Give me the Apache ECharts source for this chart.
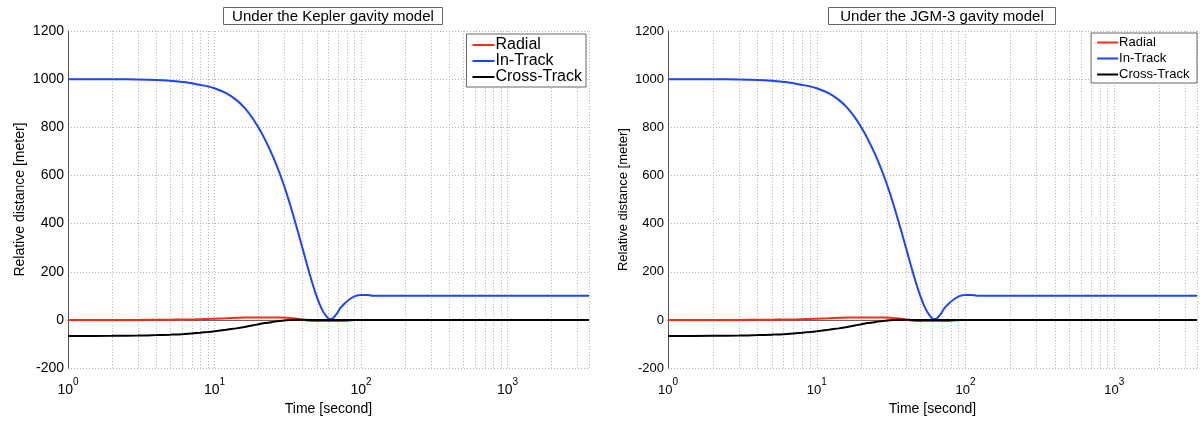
<!DOCTYPE html>
<html>
<head>
<meta charset="utf-8">
<script src="https://cdn.jsdelivr.net/npm/echarts@6/dist/echarts.min.js"></script>
<style>html,body{margin:0;padding:0;background:#fff;}#c{width:1200px;height:421px;}</style>
</head>
<body>
<div id="c"></div>
<script>
// ---- data ----
const time = [1, 2, 3, 4, 5, 6, 7, 8, 9, 10, 12, 14, 16, 18, 20, 22, 25, 28, 31, 34, 37, 40, 43, 46, 50, 54, 58, 61, 64, 68, 72, 78, 85, 92, 100, 110, 115, 120, 150, 200, 500, 1000, 2000, 3600];
const inTrack = [1000, 1000, 999, 997, 993, 988, 983, 976, 970, 962, 942, 915, 882, 842, 798, 752, 680, 605, 527, 447, 369, 295, 225, 163, 95, 45, 15, 4, 6, 24, 48, 70, 89, 100, 104, 104, 103, 100, 100, 100, 100, 100, 100, 100];
const crossTrack = [-67, -66, -65, -63, -61, -59, -56, -53, -50, -47, -41, -35, -29, -23, -18, -13, -8, -4, -1, 0, 1, 1, 0, 0, 0, 0, 0, 0, 0, 0, 0, 0, 0, 0, 0, 0, 0, 0, 0, 0, 0, 0, 0, 0];
const radial = [0, 0, 0, 1, 1, 2, 2, 3, 4, 5, 7, 9, 10, 10, 10, 10, 10, 10, 9, 7, 4, 1, -2, -4, -4, -4, -4, -4, -4, -4, -4, -4, -2, 0, 0, 0, 0, 0, 0, 0, 0, 0, 0, 0];
const minorX = [2, 3, 4, 5, 6, 7, 8, 9, 20, 30, 40, 50, 60, 70, 80, 90, 200, 300, 400, 500, 600, 700, 800, 900, 2000, 3000];
const titles = ['Under the Kepler gavity model', 'Under the JGM-3 gavity model'];
const seriesNames = ['Radial', 'In-Track', 'Cross-Track'];
const colors = ['#ff2a10', '#1a44ff', '#000000'];
const yTicks = {min: -200, max: 1200, step: 200};
const xRange = {min: 1, max: 3600};

// ---- chart ----
const FONT = 'Liberation Sans, Arial, Helvetica, sans-serif';
const chart = echarts.init(document.getElementById('c'), null, {renderer: 'canvas'});
const grids = [
  {left: 68, top: 31, width: 521, height: 342, fs: 14, xfs: 14, lfs: 16, yGap: 41, titleX: 324, tpad: 9, legendRight: 1200 - 586, legendTop: 34, gap: 0, iw: 22},
  {left: 668, top: 31, width: 529, height: 342, fs: 13, xfs: 14, lfs: 13, yGap: 38, titleX: 930, tpad: 12, legendRight: 3, legendTop: 33, gap: 3, iw: 21}
];
const dotted = {color: '#b4b4b4', width: 1, type: [1, 2]};
function pairs(arr) { return time.map((t, i) => [t, arr[i]]); }
const option = {
  animation: false,
  backgroundColor: '#fff',
  textStyle: {fontFamily: FONT},
  title: grids.map((g, i) => ({
    text: titles[i], left: g.titleX, top: 7, textAlign: 'center',
    borderColor: '#666', borderWidth: 1, backgroundColor: '#fff', padding: [2, g.tpad, 1, g.tpad],
    textStyle: {fontFamily: FONT, fontSize: 15, fontWeight: 'normal', color: '#000'}
  })),
  legend: grids.map((g, i) => ({
    gridIndex: i, orient: 'vertical', right: g.legendRight, top: g.legendTop,
    data: seriesNames.map((n, k) => ({name: n + (i ? ' ' : '')})),
    backgroundColor: '#fff', borderColor: '#666', borderWidth: 1,
    padding: [3, 4, 2, 6], itemGap: g.gap, itemWidth: g.iw, itemHeight: 2,
    icon: 'rect', selectedMode: false,
    textStyle: {fontFamily: FONT, fontSize: g.lfs, color: '#000', padding: [0, 0, 0, -4]}
  })),
  grid: grids.map(g => ({left: g.left, top: g.top, width: g.width, height: g.height, containLabel: false})),
  xAxis: grids.map((g, i) => ({
    type: 'log', logBase: 10, gridIndex: i, min: xRange.min, max: xRange.max,
    name: 'Time [second]', nameLocation: 'middle', nameGap: 26,
    nameTextStyle: {fontFamily: FONT, fontSize: g.xfs, color: '#000'},
    axisLine: {show: true, lineStyle: {color: '#666', width: 1}},
    axisTick: {show: false},
    splitLine: {show: true, lineStyle: dotted},
    axisLabel: {
      showMaxLabel: false, margin: 9,
      formatter: v => '{b|10}{s|' + Math.round(Math.log10(v)) + '}',
      rich: {
        b: {fontFamily: FONT, fontSize: g.fs, color: '#000', verticalAlign: 'bottom', lineHeight: 20},
        s: {fontFamily: FONT, fontSize: 10, color: '#000', verticalAlign: 'top', lineHeight: 10}
      }
    }
  })),
  yAxis: grids.map((g, i) => ({
    type: 'value', gridIndex: i, min: yTicks.min, max: yTicks.max, interval: yTicks.step,
    name: 'Relative distance [meter]', nameLocation: 'middle', nameGap: g.yGap,
    nameTextStyle: {fontFamily: FONT, fontSize: g.fs, color: '#000'},
    axisLine: {show: true, lineStyle: {color: '#555', width: 1}},
    axisTick: {show: false},
    splitLine: {show: true, lineStyle: dotted},
    axisLabel: {fontFamily: FONT, fontSize: g.fs, color: '#000', margin: 4, formatter: v => String(v)}
  })),
  series: []
};
grids.forEach((g, i) => {
  const vals = [radial, inTrack, crossTrack];
  vals.forEach((arr, k) => {
    const s = {
      type: 'line', name: seriesNames[k] + (i ? ' ' : ''), xAxisIndex: i, yAxisIndex: i,
      data: pairs(arr), showSymbol: false, symbol: 'none', smooth: 0.25,
      lineStyle: {color: colors[k], width: 2}, itemStyle: {color: colors[k]}, z: 3
    };
    if (k === 0) {
      s.markLine = {
        silent: true, symbol: 'none', z: 1, animation: false,
        label: {show: false},
        lineStyle: dotted,
        emphasis: {disabled: true},
        data: minorX.map(v => ({xAxis: v}))
      };
    }
    option.series.push(s);
  });
});
chart.setOption(option);
</script>
</body>
</html>
